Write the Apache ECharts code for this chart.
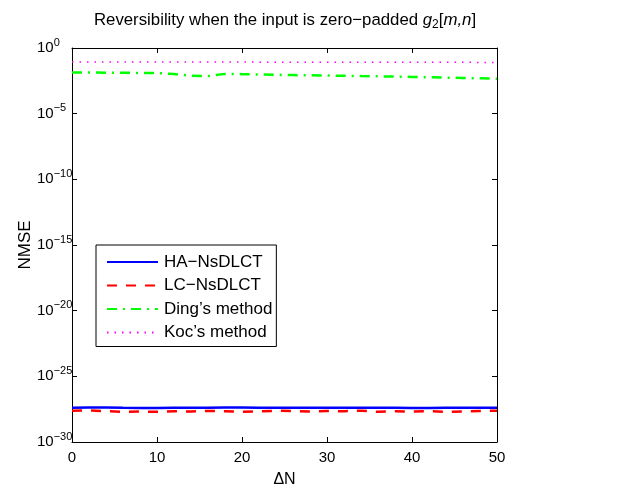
<!DOCTYPE html>
<html>
<head>
<meta charset="utf-8">
<script src="https://cdn.jsdelivr.net/npm/echarts@6/dist/echarts.min.js"></script>
<style>
  html, body { margin: 0; padding: 0; background: #fff; }
  #chart { width: 634px; height: 489px; }
</style>
</head>
<body>
<div id="chart"></div>
<script>
// ΔN 取值
const deltaN = [0, 2, 4, 6, 8, 10, 12, 14, 16, 18, 20, 22, 24, 26, 28, 30, 32, 34, 36, 38, 40, 42, 44, 46, 48, 50];
// 各方法的 NMSE
const haNsDLCT = [4.1e-28, 4.3e-28, 4.2e-28, 4.0e-28, 3.9e-28, 3.9e-28, 4.0e-28, 4.1e-28, 4.0e-28, 4.2e-28, 4.3e-28, 4.1e-28, 4.0e-28,
    4.0e-28, 4.1e-28, 4.1e-28, 4.0e-28, 4.0e-28, 4.1e-28, 4.0e-28, 3.9e-28, 3.8e-28, 4.0e-28, 4.1e-28, 4.1e-28, 4.1e-28];
const lcNsDLCT = [2.4e-28, 2.5e-28, 2.2e-28, 2.0e-28, 2.1e-28, 2.0e-28, 2.2e-28, 2.1e-28, 2.3e-28, 2.2e-28, 2.0e-28, 2.1e-28, 2.4e-28,
    2.3e-28, 2.1e-28, 2.3e-28, 2.2e-28, 2.4e-28, 2.0e-28, 2.2e-28, 2.1e-28, 2.2e-28, 2.0e-28, 2.1e-28, 2.3e-28, 2.4e-28];
const dingMethod = [0.0138, 0.0135, 0.0132, 0.0129, 0.0126, 0.0123, 0.0105, 0.00759, 0.00724, 0.0107, 0.0102, 0.00955, 0.00912,
    0.00871, 0.00832, 0.00794, 0.00759, 0.00724, 0.00692, 0.00661, 0.00631, 0.00589, 0.00550, 0.00525, 0.00490, 0.00457];
const kocMethod = [0.088, 0.087, 0.087, 0.087, 0.086, 0.086, 0.086, 0.085, 0.085, 0.085, 0.085, 0.084, 0.084,
    0.084, 0.083, 0.083, 0.083, 0.083, 0.082, 0.082, 0.082, 0.081, 0.081, 0.081, 0.080, 0.080];
const seriesNames = ['HA\u2212NsDLCT', 'LC\u2212NsDLCT', 'Ding\u2019s method', 'Koc\u2019s method'];
// y 轴以 log10 指数画
const yExpMin = -30, yExpMax = 0, yExpStep = 5;

const font = "'Liberation Sans', Arial, Helvetica, sans-serif";

function pairs(ys) {
    return deltaN.map(function (x, i) { return [x, Math.log10(ys[i])]; });
}

// 10^k 标签
function expLabel(k) {
    return '{b|10}{s|' + String(Math.round(k)).replace('-', '\u2212') + '}';
}

const myChart = echarts.init(document.getElementById('chart'));
const axisLine = { show: true, onZero: false, lineStyle: { color: '#000', width: 1 } };
const axisTick = { show: true, inside: true, length: 5, lineStyle: { color: '#000' } };

let option = {
    animation: false,
    backgroundColor: '#fff',
    textStyle: { fontFamily: font },
    title: {
        text: '{n|Reversibility when the input is zero\u2212padded }{i|g}{sub|2}{n|[}{i|m,n}{n|]}',
        left: 280,
        textAlign: 'center',
        top: 4,
        textStyle: {
            fontWeight: 'normal',
            rich: {
                n: { fontSize: 16.8, color: '#000', fontFamily: font, fontWeight: 'normal' },
                i: { fontSize: 16.8, color: '#000', fontFamily: font, fontStyle: 'italic', fontWeight: 'normal' },
                sub: { fontSize: 12, color: '#000', fontFamily: font, fontWeight: 'normal', padding: [10, 0, 0, 0] }
            }
        }
    },
    grid: { left: 72, right: 137, top: 48, bottom: 47, outerBoundsMode: 'none', containLabel: false },
    legend: {
        orient: 'vertical',
        left: 96,
        top: 245,
        padding: [8.5, 4, 5.5, 10],
        itemGap: 6.5,
        itemWidth: 51,
        itemHeight: 14,
        borderColor: '#000',
        borderWidth: 1,
        borderRadius: 0,
        backgroundColor: '#fff',
        itemStyle: { opacity: 0 },
        textStyle: { fontSize: 17, color: '#000', fontFamily: font, padding: [0, 0, 0, 1] },
        data: seriesNames
    },
    xAxis: [
        {
            type: 'value', min: 0, max: 50, interval: 10,
            axisLine: axisLine, axisTick: axisTick, splitLine: { show: false },
            name: '\u0394N', nameLocation: 'middle', nameGap: 30, nameMoveOverlap: false,
            nameTextStyle: { fontSize: 16, color: '#000', fontFamily: font },
            axisLabel: { fontSize: 15, color: '#000', margin: 8, fontFamily: font }
        },
        {
            type: 'value', min: 0, max: 50, interval: 10, position: 'top',
            axisLine: axisLine, axisTick: axisTick, splitLine: { show: false },
            axisLabel: { show: false }
        }
    ],
    yAxis: [
        {
            type: 'value', min: yExpMin, max: yExpMax, interval: yExpStep,
            axisLine: axisLine, axisTick: axisTick, splitLine: { show: false },
            name: 'NMSE', nameLocation: 'middle', nameGap: 38, nameMoveOverlap: false,
            nameTextStyle: { fontSize: 17, color: '#000', fontFamily: font },
            axisLabel: {
                margin: 35, align: 'left', formatter: expLabel,
                rich: {
                    b: { fontSize: 15, color: '#000', fontFamily: font },
                    s: { fontSize: 11, color: '#000', fontFamily: font, padding: [0, 0, 11, 0] }
                }
            }
        },
        {
            type: 'value', min: yExpMin, max: yExpMax, interval: yExpStep, position: 'right',
            axisLine: axisLine, axisTick: axisTick, splitLine: { show: false },
            axisLabel: { show: false }
        }
    ],
    series: [
        {
            name: seriesNames[0], type: 'line', symbol: 'none', data: pairs(haNsDLCT),
            lineStyle: { color: '#0000ff', width: 2.5, type: 'solid' }, itemStyle: { color: '#0000ff' }
        },
        {
            name: seriesNames[1], type: 'line', symbol: 'none', data: pairs(lcNsDLCT),
            lineStyle: { color: '#ff0000', width: 2.5, type: [10, 9] }, itemStyle: { color: '#ff0000' }
        },
        {
            name: seriesNames[2], type: 'line', symbol: 'none', data: pairs(dingMethod),
            lineStyle: { color: '#00ff00', width: 2.5, type: [10, 6, 2, 6] }, itemStyle: { color: '#00ff00' }
        },
        {
            name: seriesNames[3], type: 'line', symbol: 'none', data: pairs(kocMethod),
            lineStyle: { color: '#ff00ff', width: 1.5, type: [1.5, 6] }, itemStyle: { color: '#ff00ff' }
        }
    ]
};

myChart.setOption(option);
window.addEventListener('resize', function () {
    myChart.resize();
});
</script>
</body>
</html>
